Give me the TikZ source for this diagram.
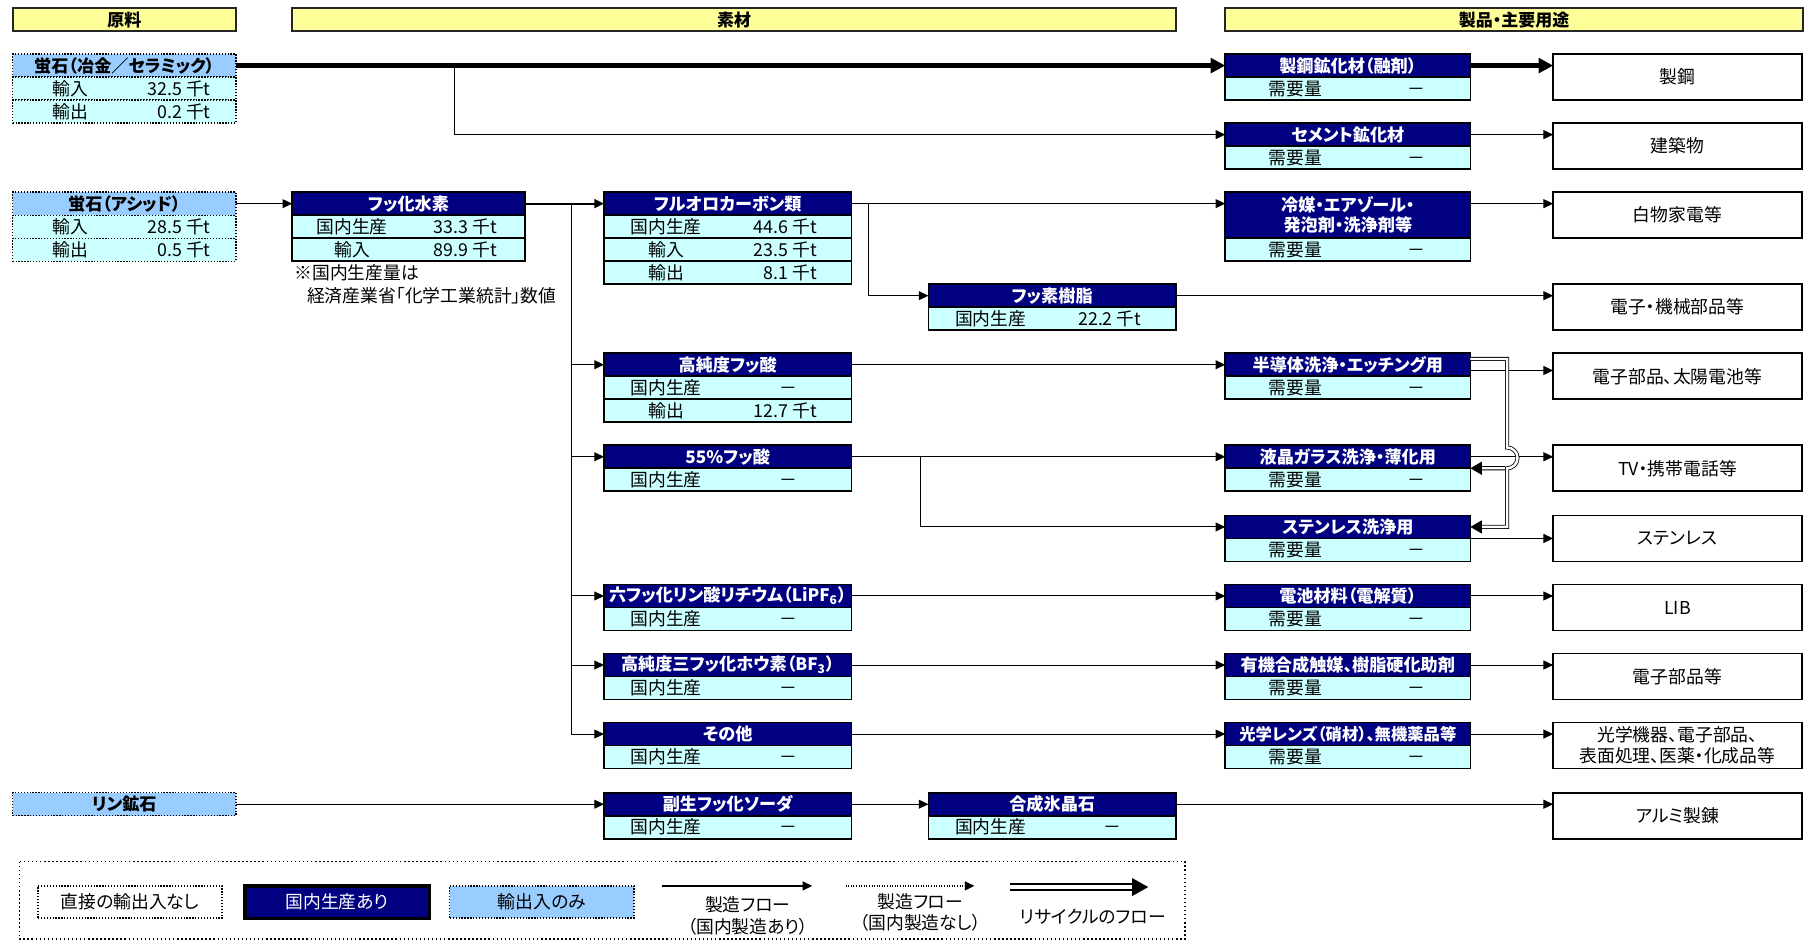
\documentclass[tikz,border=0pt]{standalone}
\usepackage{fontspec}
\setmainfont{Noto Sans CJK JP}[RawFeature={+palt}]
\usetikzlibrary{arrows.meta,positioning,calc}

\definecolor{navyhead}{RGB}{0,0,128}
\definecolor{rowcyan}{RGB}{204,255,255}
\definecolor{oreblue}{RGB}{153,204,255}
\definecolor{titleyellow}{RGB}{255,255,153}

\newdimen\U \U=0.025cm
\def\boxrow#1#2#3#4{\makebox[#1\U][l]{\hspace*{#2\U}\makebox[0pt]{#3}\hfill#4}}
\def\ktval#1#2{#1 千t\hspace*{#2\U}}
\def\noval#1{\makebox[0pt]{－}\hspace*{#1\U}}
\def\needrow{\boxrow{213}{61}{需要量}{\noval{47}}}

\begin{document}
\begin{tikzpicture}[x=0.025cm,y=-0.025cm,>={Triangle[length=6pt,width=5.5pt]},
    font=\fontsize{11pt}{13pt}\selectfont,
    coltitle/.style={draw=black!85,line width=1.1pt,fill=titleyellow,minimum height=0.5cm,inner sep=0,outer sep=0,anchor=north west,font=\fontsize{10.5pt}{12pt}\selectfont\bfseries},
    orehead/.style={draw,densely dotted,line width=0.8pt,fill=oreblue,minimum width=4.85cm,minimum height=0.5cm,inner sep=0,outer sep=0,font=\fontsize{10.6pt}{12pt}\selectfont\bfseries},
    orerow/.style={draw,densely dotted,line width=0.8pt,fill=rowcyan,minimum width=4.85cm,minimum height=0.5cm,inner sep=0,outer sep=0},
    mathead/.style={draw,line width=1.1pt,fill=navyhead,text=white,minimum height=0.5cm,inner sep=0,outer sep=0,font=\fontsize{10.6pt}{12.5pt}\selectfont\bfseries},
    matrow/.style={draw,line width=1.1pt,fill=rowcyan,minimum height=0.5cm,inner sep=0,outer sep=0},
    matw/.style={minimum width=5.375cm},
    needw/.style={minimum width=5.325cm},
    usebox/.style={draw,line width=1.1pt,fill=white,minimum width=5.4cm,minimum height=1cm,inner sep=0,outer sep=0,anchor=north west,align=center},
    flow/.style={->,line width=0.6pt},
    heavy/.style={-{Triangle[length=9pt,width=9pt]},line width=2.6pt},
    recycle/.style={-{Triangle[length=7pt,width=8pt]},double=white,double distance=1.5pt,line width=0.5pt},
    lgbox/.style={minimum height=0.7cm,minimum width=4cm,inner sep=0,outer sep=0}]

    \useasboundingbox (0,0) rectangle (1568,818);

    % column titles
    \node[coltitle,minimum width=4.85cm] (tRaw) at (11,7) {原料};
    \node[coltitle,minimum width=19.2cm] (tMat) at (254,7) {素材};
    \node[coltitle,minimum width=12.55cm] (tUse) at (1065,7) {製品・主要用途};

    % raw materials
    \node[orehead,anchor=north west] (ore1) at (11,47) {蛍石（冶金／セラミック）};
    \node[orerow,below=0pt of ore1] (ore1-a) {\boxrow{194}{50}{輸入}{\ktval{32.5}{22}}};
    \node[orerow,below=0pt of ore1-a] (ore1-b) {\boxrow{194}{50}{輸出}{\ktval{0.2}{22}}};

    \node[orehead,anchor=north west] (ore2) at (11,167) {蛍石（アシッド）};
    \node[orerow,below=0pt of ore2] (ore2-a) {\boxrow{194}{50}{輸入}{\ktval{28.5}{22}}};
    \node[orerow,below=0pt of ore2-a] (ore2-b) {\boxrow{194}{50}{輸出}{\ktval{0.5}{22}}};

    \node[orehead,anchor=north west] (ore3) at (11,689) {リン鉱石};

    % materials
    \node[mathead,minimum width=5.05cm,anchor=north west] (hf) at (254,167) {フッ化水素};
    \node[matrow,minimum width=5.05cm,below=0pt of hf] (hf-a) {\boxrow{202}{52}{国内生産}{\ktval{33.3}{24}}};
    \node[matrow,minimum width=5.05cm,below=0pt of hf-a] (hf-b) {\boxrow{202}{52}{輸入}{\ktval{89.9}{24}}};
    \node[anchor=west] (note1) at (251,237) {※国内生産量は};
    \node[anchor=west] (note2) at (262,257) {経済産業省「化学工業統計」数値};

    \node[mathead,matw,anchor=north west] (fc) at (525,167) {フルオロカーボン類};
    \node[matrow,matw,below=0pt of fc] (fc-a) {\boxrow{215}{54}{国内生産}{\ktval{44.6}{30}}};
    \node[matrow,matw,below=0pt of fc-a] (fc-b) {\boxrow{215}{54}{輸入}{\ktval{23.5}{30}}};
    \node[matrow,matw,below=0pt of fc-b] (fc-c) {\boxrow{215}{54}{輸出}{\ktval{8.1}{30}}};

    \node[mathead,matw,anchor=north west] (resin) at (807,247) {フッ素樹脂};
    \node[matrow,matw,below=0pt of resin] (resin-a) {\boxrow{215}{54}{国内生産}{\ktval{22.2}{30}}};

    \node[mathead,matw,anchor=north west] (hpa) at (525,307) {高純度フッ酸};
    \node[matrow,matw,below=0pt of hpa] (hpa-a) {\boxrow{215}{54}{国内生産}{\noval{55}}};
    \node[matrow,matw,below=0pt of hpa-a] (hpa-b) {\boxrow{215}{54}{輸出}{\ktval{12.7}{30}}};

    \node[mathead,matw,anchor=north west] (hfa) at (525,387) {55\%フッ酸};
    \node[matrow,matw,below=0pt of hfa] (hfa-a) {\boxrow{215}{54}{国内生産}{\noval{55}}};

    \node[mathead,matw,anchor=north west] (lipf) at (525,508) {六フッ化リン酸リチウム（LiPF\textsubscript{6}）};
    \node[matrow,matw,below=0pt of lipf] (lipf-a) {\boxrow{215}{54}{国内生産}{\noval{55}}};

    \node[mathead,matw,anchor=north west] (bf) at (525,568) {高純度三フッ化ホウ素（BF\textsubscript{3}）};
    \node[matrow,matw,below=0pt of bf] (bf-a) {\boxrow{215}{54}{国内生産}{\noval{55}}};

    \node[mathead,matw,anchor=north west] (other) at (525,628) {その他};
    \node[matrow,matw,below=0pt of other] (other-a) {\boxrow{215}{54}{国内生産}{\noval{55}}};

    \node[mathead,matw,anchor=north west] (naf) at (525,689) {副生フッ化ソーダ};
    \node[matrow,matw,below=0pt of naf] (naf-a) {\boxrow{215}{54}{国内生産}{\noval{55}}};

    \node[mathead,matw,anchor=north west] (cryo) at (807,689) {合成氷晶石};
    \node[matrow,matw,below=0pt of cryo] (cryo-a) {\boxrow{215}{54}{国内生産}{\noval{55}}};

    % products
    \node[mathead,needw,anchor=north west] (flux) at (1065,47) {製鋼鉱化材（融剤）};
    \node[matrow,needw,below=0pt of flux] (flux-a) {\needrow};
    \node[mathead,needw,anchor=north west] (cem) at (1065,107) {セメント鉱化材};
    \node[matrow,needw,below=0pt of cem] (cem-a) {\needrow};
    \node[mathead,needw,minimum height=1cm,align=center,anchor=north west] (refr) at (1065,167) {冷媒・エアゾール・\\発泡剤・洗浄剤等};
    \node[matrow,needw,below=0pt of refr] (refr-a) {\needrow};
    \node[mathead,needw,anchor=north west] (semi) at (1065,307) {半導体洗浄・エッチング用};
    \node[matrow,needw,below=0pt of semi] (semi-a) {\needrow};
    \node[mathead,needw,anchor=north west] (lcd) at (1065,387) {液晶ガラス洗浄・薄化用};
    \node[matrow,needw,below=0pt of lcd] (lcd-a) {\needrow};
    \node[mathead,needw,anchor=north west] (sus) at (1065,448) {ステンレス洗浄用};
    \node[matrow,needw,below=0pt of sus] (sus-a) {\needrow};
    \node[mathead,needw,anchor=north west] (batt) at (1065,508) {電池材料（電解質）};
    \node[matrow,needw,below=0pt of batt] (batt-a) {\needrow};
    \node[mathead,needw,anchor=north west] (cat) at (1065,568) {有機合成触媒、樹脂硬化助剤};
    \node[matrow,needw,below=0pt of cat] (cat-a) {\needrow};
    \node[mathead,needw,anchor=north west,font=\fontsize{10.1pt}{12pt}\selectfont\bfseries] (lens) at (1065,628) {光学レンズ（硝材）、無機薬品等};
    \node[matrow,needw,below=0pt of lens] (lens-a) {\needrow};

    % main uses
    \node[usebox] (uSteel) at (1350,47) {製鋼};
    \node[usebox] (uBuild) at (1350,107) {建築物};
    \node[usebox] (uAppl) at (1350,167) {白物家電等};
    \node[usebox] (uMach) at (1350,247) {電子・機械部品等};
    \node[usebox] (uSolar) at (1350,307) {電子部品、太陽電池等};
    \node[usebox] (uTV) at (1350,387) {TV・携帯電話等};
    \node[usebox] (uSus) at (1350,448) {ステンレス};
    \node[usebox] (uLib) at (1350,508) {LIB};
    \node[usebox] (uElec) at (1350,568) {電子部品等};
    \node[usebox] (uOpt) at (1350,628) {光学機器、電子部品、\\表面処理、医薬・化成品等};
    \node[usebox] (uAl) at (1350,689) {アルミ製錬};

    % flows
    \coordinate (j1) at (395,57);
    \coordinate (j2) at (497,177);
    \coordinate (j3) at (755,177);
    \coordinate (j4) at (800,397);
    \coordinate (s1) at ($(semi.east)!0.5!(semi.south east)$);
    \draw[heavy] (ore1.east) -- (ore1.east -| flux.west);
    \draw[heavy] (flux.east) -- (flux.east -| uSteel.west);
    \draw[flow] (j1) |- (cem.west);
    \draw[flow] (cem.east) -- (cem.east -| uBuild.west);
    \draw[flow] (ore2.east) -- (hf.west);
    \draw[->,line width=1.3pt] (hf.east) -- (fc.west);
    \draw[flow] (j2) |- (hpa.west);
    \draw[flow] (j2) |- (hfa.west);
    \draw[flow] (j2) |- (lipf.west);
    \draw[flow] (j2) |- (bf.west);
    \draw[flow] (j2) |- (other.west);
    \draw[flow] (fc.east) -- (fc.east -| refr.west);
    \draw[flow] (j3) |- (resin.west);
    \draw[flow] (fc.east -| refr.east) -- (fc.east -| uAppl.west);
    \draw[flow] (resin.east) -- (resin.east -| uMach.west);
    \draw[flow] (hpa.east) -- (semi.west);
    \draw[flow] (s1) -- (s1 -| uSolar.west);
    \draw[flow] (hfa.east) -- (lcd.west);
    \draw[flow] (j4) |- (sus.west);
    \draw[flow] (lcd.east) -- (lcd.east -| uTV.west);
    \draw[flow] (sus.south east) -- (sus.south east -| uSus.west);
    \draw[flow] (lipf.east) -- (batt.west);
    \draw[flow] (batt.east) -- (batt.east -| uLib.west);
    \draw[flow] (bf.east) -- (cat.west);
    \draw[flow] (cat.east) -- (cat.east -| uElec.west);
    \draw[flow] (other.east) -- (lens.west);
    \draw[flow] (lens.east) -- (lens.east -| uOpt.west);
    \draw[flow] (ore3.east) -- (naf.west);
    \draw[flow] (naf.east) -- (cryo.west);
    \draw[flow] (cryo.east) -- (cryo.east -| uAl.west);

    % recycle
    \coordinate (r0) at ($(semi.east)!0.5!(semi.north east)$);
    \coordinate (r1) at (1310,312);
    \coordinate (r2) at (1310,389);
    \coordinate (r3) at (1308,407);
    \coordinate (r4) at (1310,458);
    \draw[recycle] (r3) -- (lcd.south east);
    \draw[recycle] (r0) -- (r1) -- (r2) arc[start angle=90,end angle=-90,radius=0.225cm] -- (r4) -- (sus.east);

    % legend
    \draw[dash pattern=on 0.9pt off 1.6pt,line width=0.9pt] (17,749) rectangle (1030,816);
    \node[lgbox,draw,densely dotted,line width=0.8pt] (lgNone) at (113,784) {直接の輸出入なし};
    \node[lgbox,draw,line width=2pt,fill=navyhead,text=white] (lgDom) at (293,784) {国内生産あり};
    \node[lgbox,draw,densely dotted,line width=0.8pt,fill=oreblue] (lgTrade) at (471,784) {輸出入のみ};
    \coordinate (lgA1) at (575,770);
    \coordinate (lgA2) at (706,770);
    \draw[flow,line width=1pt] (lgA1) -- (lgA2);
    \node[align=center,font=\fontsize{11pt}{13.5pt}\selectfont] (lgT1) at (650,796) {製造フロー\\（国内製造あり）};
    \coordinate (lgB1) at (735,770);
    \coordinate (lgB2) at (847,770);
    \draw[flow,densely dotted,line width=1pt] (lgB1) -- (lgB2);
    \node[align=center,font=\fontsize{11pt}{13.5pt}\selectfont] (lgT2) at (800,793) {製造フロー\\（国内製造なし）};
    \coordinate (lgC1) at (878,771);
    \coordinate (lgC2) at (998,771);
    \draw[recycle,double distance=3pt,line width=0.8pt,-{Triangle[length=10pt,width=11pt]}] (lgC1) -- (lgC2);
    \node (lgT3) at (950,797) {リサイクルのフロー};
\end{tikzpicture}
\end{document}
